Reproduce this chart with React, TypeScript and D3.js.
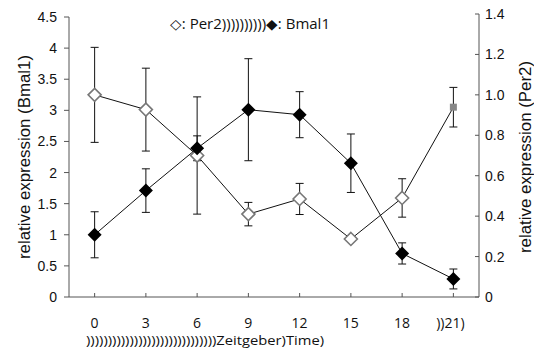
import React from "react";
import * as d3 from "d3";

const hours = ["0", "3", "6", "9", "12", "15", "18", "))21)"];
const bmal1 = [1.0, 1.71, 2.39, 3.01, 2.93, 2.15, 0.7, 0.29];
const bmal1Err = [0.37, 0.35, 0.2, 0.82, 0.37, 0.47, 0.17, 0.16];
const per2 = [1.0, 0.927, 0.7, 0.41, 0.485, 0.287, 0.49, 0.939];
const per2Err = [0.235, 0.205, 0.29, 0.058, 0.077, 0.0, 0.095, 0.098];
const leftTicks = [0, 0.5, 1, 1.5, 2, 2.5, 3, 3.5, 4, 4.5];
const rightTicks = [0, 0.2, 0.4, 0.6, 0.8, 1.0, 1.2, 1.4];

const W = 534, H = 351;
const L = 69, R = 479, T = 16, B = 297;
const font = "'Liberation Sans', Arial, sans-serif";
const font2 = "'Open Sans', sans-serif";

export default function App() {
  const x = d3.scaleBand().domain(hours).range([L, R]);
  const cx = (h: string) => (x(h) as number) + x.bandwidth() / 2;
  const yL = d3.scaleLinear().domain([0, 4.5]).range([B, 17]);
  const yR = d3.scaleLinear().domain([0, 1.4]).range([B, T - 2]);
  const lineL = d3.line<number>().x((_, i) => cx(hours[i])).y((d) => yL(d));
  const lineR = d3.line<number>().x((_, i) => cx(hours[i])).y((d) => yR(d));
  const dia = (s: number) => `M0,${-s}L${s},0L0,${s}L${-s},0Z`;
  const axisCol = "#555";

  return (
    <div style={{ position: "fixed", left: 0, top: 0, width: W, height: H, background: "#fff" }}>
      <svg width={W} height={H} style={{ display: "block" }}>
        <rect width={W} height={H} fill="#fff" />
        {/* axes */}
        <line x1={L} x2={L} y1={17} y2={B} stroke={axisCol} strokeWidth={1} />
        <line x1={R} x2={R} y1={yR(1.4)} y2={B} stroke={axisCol} strokeWidth={1} />
        <line x1={L} x2={R} y1={B} y2={B} stroke={axisCol} strokeWidth={1} />
        {leftTicks.map((t) => (
          <g key={"l" + t}>
            <line x1={L - 5} x2={L} y1={yL(t)} y2={yL(t)} stroke={axisCol} />
            <text x={57} y={yL(t)} dy="0.36em" textAnchor="end" fontFamily={font} fontSize={14} fill="#111">
              {String(t)}
            </text>
          </g>
        ))}
        {rightTicks.map((t) => (
          <g key={"r" + t}>
            <line x1={R - 4} x2={R} y1={yR(t)} y2={yR(t)} stroke={axisCol} />
            <text x={485} y={yR(t)} dy="0.36em" textAnchor="start" fontFamily={font} fontSize={14} fill="#111">
              {t === 0 ? "0" : t.toFixed(1)}
            </text>
          </g>
        ))}
        {hours.map((h) => (
          <g key={"x" + h}>
            <line x1={cx(h)} x2={cx(h)} y1={B - 4} y2={B} stroke={axisCol} />
            <text x={cx(h) + (h.length > 3 ? -3 : 0)} y={328} textAnchor="middle" fontFamily={font2} fontSize={14} fill="#111">
              {h}
            </text>
          </g>
        ))}
        <text x={86} y={345} fontFamily={font2} fontSize={13} fill="#111" textLength={238} lengthAdjust="spacingAndGlyphs">
          {"))))))))))))))))))))))))))))))Zeitgeber)Time)"}
        </text>
        <text transform={`translate(30,157) rotate(-90)`} textAnchor="middle" fontFamily={font} fontSize={16} fill="#111" textLength={204} lengthAdjust="spacingAndGlyphs">
          relative expression (Bmal1)
        </text>
        <text transform={`translate(531,157) rotate(-90)`} textAnchor="middle" fontFamily={font} fontSize={16} fill="#111" textLength={192} lengthAdjust="spacingAndGlyphs">
          relative expression (Per2)
        </text>
        {/* legend */}
        <text x={170} y={29} fontFamily={font2} fontSize={14} fill="#111" textLength={160} lengthAdjust="spacingAndGlyphs">
          {"◇: Per2))))))))))◆: Bmal1"}
        </text>
        {/* error bars */}
        {bmal1.map((v, i) => {
          const px = cx(hours[i]);
          const e = bmal1Err[i];
          return (
            <g key={"eb" + i} stroke="#111" strokeWidth={1}>
              <line x1={px} x2={px} y1={yL(v + e)} y2={yL(v - e)} />
              <line x1={px - 4} x2={px + 4} y1={yL(v + e)} y2={yL(v + e)} />
              <line x1={px - 4} x2={px + 4} y1={yL(v - e)} y2={yL(v - e)} />
            </g>
          );
        })}
        {per2.map((v, i) => {
          const px = cx(hours[i]);
          const e = per2Err[i];
          if (e <= 0) return null;
          return (
            <g key={"ep" + i} stroke="#111" strokeWidth={1}>
              <line x1={px} x2={px} y1={yR(v + e)} y2={yR(v - e)} />
              <line x1={px - 4} x2={px + 4} y1={yR(v + e)} y2={yR(v + e)} />
              <line x1={px - 4} x2={px + 4} y1={yR(v - e)} y2={yR(v - e)} />
            </g>
          );
        })}
        {/* lines */}
        <path d={lineL(bmal1) || ""} fill="none" stroke="#111" strokeWidth={1} />
        <path d={lineR(per2) || ""} fill="none" stroke="#111" strokeWidth={1} />
        {/* markers */}
        {per2.map((v, i) => {
          const px = cx(hours[i]);
          if (i === per2.length - 1) {
            return <rect key={"mp" + i} x={px - 3.5} y={yR(v) - 3.5} width={7} height={7} fill="#888" />;
          }
          return (
            <path key={"mp" + i} d={dia(6.5)} transform={`translate(${px},${yR(v)})`} fill="#fff" stroke="#777" strokeWidth={1.6} />
          );
        })}
        {bmal1.map((v, i) => (
          <path key={"mb" + i} d={dia(7)} transform={`translate(${cx(hours[i])},${yL(v)})`} fill="#000" />
        ))}
      </svg>
    </div>
  );
}
